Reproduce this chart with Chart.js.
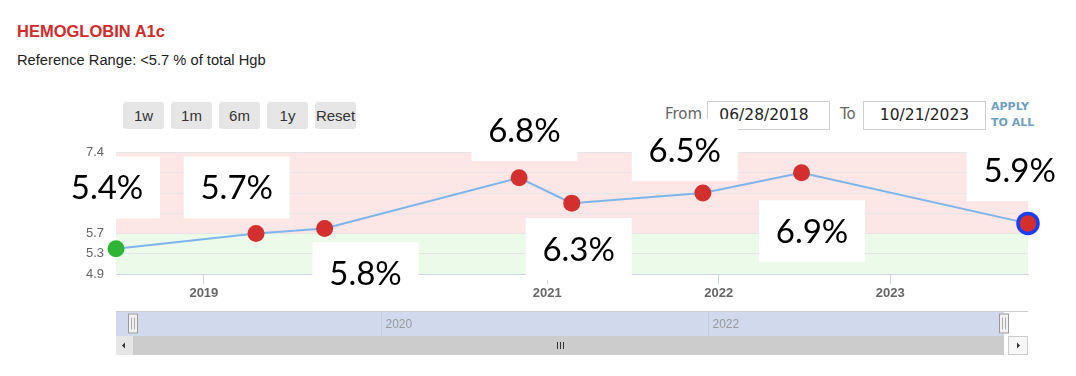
<!DOCTYPE html>
<html>
<head>
<meta charset="utf-8">
<script src="https://cdn.jsdelivr.net/npm/chart.js@4.4.0/dist/chart.umd.min.js"></script>
<style>
  html, body { margin:0; padding:0; background:#fff; width:1076px; height:376px; overflow:hidden; font-family:"Liberation Sans", Arial, sans-serif; }
  #wrap { position:relative; width:1076px; height:376px; }
  #chart { position:absolute; left:0; top:0; z-index:2; }
  .abs { position:absolute; white-space:nowrap; z-index:1; }
  #title { left:17px; top:22px; font-size:16.5px; font-weight:bold; color:#d42a2a; }
  #sub { left:17px; top:52px; font-size:14.7px; color:#222; }
  .btn { position:absolute; top:102px; height:27px; width:41px; background:#e6e6e6; border-radius:3px;
         font-size:15px; color:#333; text-align:center; line-height:27px; z-index:1; }
  .lbl { font-family:"DejaVu Sans", sans-serif; font-size:15px; color:#666; top:105px; }
  .inp { position:absolute; top:101px; height:27px; width:121px; border:1px solid #cfcfcf; background:#fff;
         font-family:"DejaVu Sans", sans-serif; font-size:15.5px; color:#222; line-height:27px; text-align:center; z-index:1; }
  #apply { left:991px; top:99px; font-family:"DejaVu Sans", sans-serif; font-weight:bold; font-size:11px; line-height:16px; color:#6f9fc4; }
</style>
</head>
<body>
<div id="wrap">
  <div id="title" class="abs">HEMOGLOBIN A1c</div>
  <div id="sub" class="abs">Reference Range: &lt;5.7 % of total Hgb</div>
  <div class="btn" style="left:123px">1w</div>
  <div class="btn" style="left:171px">1m</div>
  <div class="btn" style="left:219px">6m</div>
  <div class="btn" style="left:267px">1y</div>
  <div class="btn" style="left:315px">Reset</div>
  <div class="abs lbl" style="left:665px">From</div>
  <div class="inp" style="left:707px; text-indent:-9px">06/28/2018</div>
  <div class="abs lbl" style="left:840px">To</div>
  <div class="inp" style="left:863px">10/21/2023</div>
  <div id="apply" class="abs">APPLY<br>TO ALL</div>
  <canvas id="chart" width="1076" height="376"></canvas>
</div>
<script>
// ---- data ----
const sampleDates = ['2018-06-28','2019-04-22','2019-09-15','2020-11-02','2021-02-22','2021-11-28','2022-06-26','2023-10-21'];
const a1cValues   = [5.4, 5.7, 5.8, 6.8, 6.3, 6.5, 6.9, 5.9];
const valueLabels = ['5.4%','5.7%','5.8%','6.8%','6.3%','6.5%','6.9%','5.9%'];
const yTickValues = [4.9, 5.3, 5.7, 6.1, 6.5, 6.9, 7.3];
const yTickLabels = ['4.9','5.3','5.7','','','','7.4'];
const xTickYears  = [2019, 2020, 2021, 2022, 2023];
const navigatorYears = [2020, 2022];
const rangeStart = '2018-06-28';
const rangeEnd   = '2023-10-21';
const refLimit = 5.7;

// ---- presentation (offsets of the value boxes from their points) ----
const labelOffsets = [[-9,-61.2],[-19.3,-46],[40.9,44.8],[5.3,-47.9],[6.9,46],[-18.1,-43.1],[10.5,58.45],[-8.3,-53.2]];

const ts = d => Date.parse(d + 'T00:00:00Z');
const RED = '#d32f2f', GREEN = '#2db533', BLUE = '#1a3cff';
const n = a1cValues.length;

const bandsPlugin = {
  id: 'bands',
  beforeDraw(chart) {
    const { ctx, chartArea: a, scales: { y } } = chart;
    const yRef = y.getPixelForValue(refLimit);
    const yMin = y.getPixelForValue(y.min);
    const yMax = y.getPixelForValue(y.max);
    ctx.save();
    ctx.fillStyle = '#fde6e6';
    ctx.fillRect(a.left, yMax, a.right - a.left, yRef - yMax);
    ctx.fillStyle = '#ecfbe9';
    ctx.fillRect(a.left, yRef, a.right - a.left, yMin - yRef);
    ctx.restore();
  }
};

const labelBoxPlugin = {
  id: 'labelBoxes',
  afterDatasetsDraw(chart) {
    const meta = chart.getDatasetMeta(0);
    const ctx = chart.ctx;
    ctx.save();
    meta.data.forEach((pt, i) => {
      const [dx, dy] = labelOffsets[i];
      const cx = pt.x + dx, cy = pt.y + dy;
      ctx.fillStyle = '#ffffff';
      ctx.fillRect(cx - 53, cy - 31, 106, 62);
      ctx.fillStyle = '#000000';
      ctx.font = '33px Lato, "Open Sans", sans-serif';
      ctx.textAlign = 'center';
      ctx.textBaseline = 'middle';
      ctx.fillText(valueLabels[i], cx, cy + 1);
    });
    ctx.restore();
  }
};

const navigatorPlugin = {
  id: 'navigator',
  afterDraw(chart) {
    const { ctx, chartArea: a, scales: { x } } = chart;
    const top = 311.5, bot = 336, sTop = 336, sBot = 355;
    const left = a.left, right = a.right, maskRight = right - 24;
    const navL = left + 17.5, navR = maskRight - 1;
    const navX = v => navL + (x.getPixelForValue(v) - left) / (right - left) * (navR - navL);
    ctx.save();
    ctx.fillStyle = '#d1daed';
    ctx.fillRect(left, top, maskRight - left, bot - top);
    ctx.strokeStyle = '#cccccc'; ctx.lineWidth = 1;
    ctx.beginPath(); ctx.moveTo(left, top); ctx.lineTo(right, top); ctx.stroke();
    ctx.font = '12px "Liberation Sans Narrow", "Liberation Sans", sans-serif';
    ctx.textBaseline = 'middle'; ctx.textAlign = 'left';
    navigatorYears.forEach(yr => {
      const px = Math.round(navX(Date.UTC(yr, 0, 1))) + 0.5;
      ctx.strokeStyle = '#c3cbe0';
      ctx.beginPath(); ctx.moveTo(px, top); ctx.lineTo(px, bot); ctx.stroke();
      ctx.fillStyle = '#999999';
      ctx.fillText(String(yr), px + 4, (top + bot) / 2 + 1);
    });
    [left + 17, maskRight].forEach(hx => {
      ctx.fillStyle = '#f2f2f2'; ctx.strokeStyle = '#999999';
      ctx.fillRect(hx - 5, top + 2, 10, 20); ctx.strokeRect(hx - 5 + 0.5, top + 2 + 0.5, 9, 19);
      ctx.strokeStyle = '#aaaaaa';
      ctx.beginPath(); ctx.moveTo(hx - 1.5, top + 6); ctx.lineTo(hx - 1.5, top + 18);
      ctx.moveTo(hx + 1.5, top + 6); ctx.lineTo(hx + 1.5, top + 18); ctx.stroke();
    });
    ctx.fillStyle = '#cccccc';
    ctx.fillRect(left, sTop, maskRight - left, sBot - sTop);
    ctx.fillStyle = '#e6e6e6';
    ctx.fillRect(left, sTop, 17, sBot - sTop);
    ctx.fillStyle = '#f7f7f7'; ctx.strokeStyle = '#cccccc';
    ctx.fillRect(right - 20, sTop, 20, sBot - sTop);
    ctx.strokeRect(right - 20 + 0.5, sTop + 0.5, 19, sBot - sTop - 1);
    ctx.fillStyle = '#333333';
    const mid = (sTop + sBot) / 2;
    ctx.beginPath(); ctx.moveTo(left + 6, mid); ctx.lineTo(left + 9, mid - 3); ctx.lineTo(left + 9, mid + 3); ctx.closePath(); ctx.fill();
    ctx.beginPath(); ctx.moveTo(right - 8, mid); ctx.lineTo(right - 11, mid - 3); ctx.lineTo(right - 11, mid + 3); ctx.closePath(); ctx.fill();
    const rc = Math.round((left + maskRight) / 2);
    ctx.strokeStyle = '#333333';
    ctx.beginPath();
    [-3, 0, 3].forEach(o => { ctx.moveTo(rc + o + 0.5, sTop + 6); ctx.lineTo(rc + o + 0.5, sBot - 6); });
    ctx.stroke();
    ctx.restore();
  }
};

function build() {
  const ctx = document.getElementById('chart').getContext('2d');
  new Chart(ctx, {
    type: 'line',
    data: {
      datasets: [{
        data: sampleDates.map((d, i) => ({ x: ts(d), y: a1cValues[i] })),
        borderColor: '#7cb5ec',
        borderWidth: 2,
        tension: 0,
        clip: false,
        pointRadius: a1cValues.map((v, i) => i === n - 1 ? 10 : 8.5),
        pointHoverRadius: a1cValues.map((v, i) => i === n - 1 ? 10 : 8.5),
        pointBackgroundColor: a1cValues.map((v, i) => i === 0 ? GREEN : RED),
        pointBorderColor: a1cValues.map((v, i) => i === n - 1 ? BLUE : 'rgba(0,0,0,0)'),
        pointBorderWidth: a1cValues.map((v, i) => i === n - 1 ? 3.5 : 0)
      }]
    },
    options: {
      responsive: false,
      animation: false,
      events: [],
      layout: { padding: { left: 0, right: 48, top: 152.5, bottom: 72 } },
      plugins: { legend: { display: false }, tooltip: { enabled: false } },
      scales: {
        x: {
          type: 'linear',
          min: ts(rangeStart),
          max: ts(rangeEnd),
          afterBuildTicks: s => { s.ticks = xTickYears.map(y => ({ value: Date.UTC(y, 0, 1) })); },
          afterFit: s => { s.height = 30; },
          ticks: {
            autoSkip: false, maxRotation: 0, padding: 2,
            callback: v => String(new Date(v).getUTCFullYear()),
            color: '#666666',
            font: { family: '"Liberation Sans", Arial, sans-serif', size: 13, weight: 'bold' }
          },
          grid: { drawOnChartArea: false, tickLength: 10, color: '#ccd6eb', tickColor: '#ccd6eb' },
          border: { color: '#ccd6eb', width: 1 }
        },
        y: {
          min: 4.9,
          max: 7.3,
          afterBuildTicks: s => { s.ticks = yTickValues.map(v => ({ value: v })); },
          afterFit: s => { s.width = 116; },
          ticks: {
            padding: 12,
            callback: (v, i) => yTickLabels[i],
            color: '#666666',
            font: { family: '"Liberation Sans", Arial, sans-serif', size: 13 }
          },
          grid: { color: '#e6e6e6', drawTicks: false },
          border: { display: false }
        }
      }
    },
    plugins: [bandsPlugin, labelBoxPlugin, navigatorPlugin]
  });
}

Promise.all([
  document.fonts.load('33px Lato'),
  document.fonts.load('13px "Liberation Sans"'),
  document.fonts.load('bold 13px "Liberation Sans"')
]).then(build, build);
</script>
</body>
</html>
